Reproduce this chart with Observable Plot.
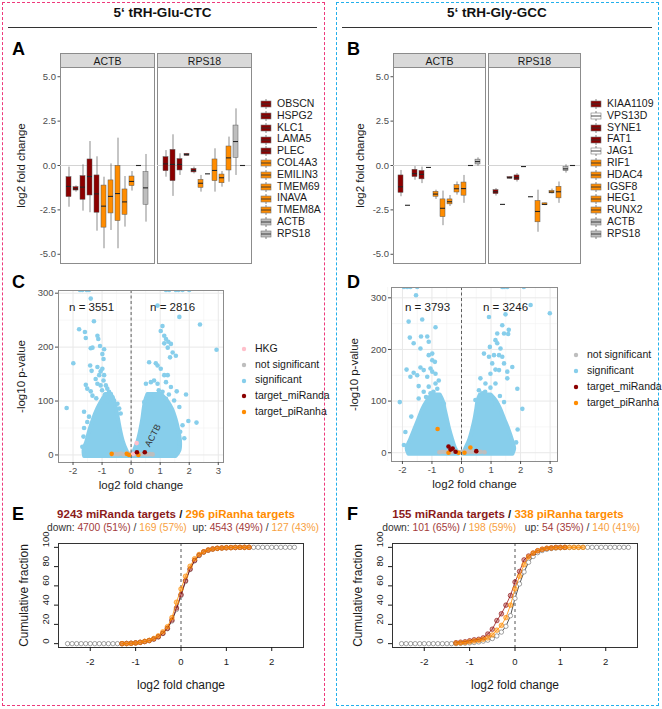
<!DOCTYPE html>
<html><head><meta charset="utf-8">
<script src="https://cdn.jsdelivr.net/npm/d3@7"></script>
<script src="https://cdn.jsdelivr.net/npm/@observablehq/plot@0.6"></script>
<style>
body{margin:0;background:#fff;font-family:"Liberation Sans",Arial,sans-serif;}
#page{position:relative;width:662px;height:709px;overflow:hidden;background:#fff}
svg g[aria-label="y-axis label"] text, svg g[aria-label="x-axis label"] text{font-size:11.5px;fill:#1a1a1a}
.cdf g[aria-label="y-axis label"] text, .cdf g[aria-label="x-axis label"] text{font-size:12px}
</style></head><body><div id="page"></div>
<script>
const FONT='"Liberation Sans", Arial, sans-serif';
const DR="#8B0000", OR="#FF8C00", GR="#BEBEBE", WH="#FFFFFF", SKY="#87CEEB", NS="#BEBEBE", PK="#FFC0CB";

// ---------- Panel A / B : box plot summaries [low, q1, median, q3, high] ----------
const facets=["ACTB","RPS18"];
const genesA=["OBSCN","HSPG2","KLC1","LAMA5","PLEC","COL4A3","EMILIN3","TMEM69","INAVA","TMEM8A","ACTB","RPS18"];
const colorsA=[DR,DR,DR,DR,DR,OR,OR,OR,OR,OR,GR,GR];
const boxA_ACTB=[[-2.35,-1.78,-1.18,-0.66,-0.09],[-1.5,-1.41,-1.31,-1.22,-1.15],[-2.57,-1.93,-1.22,-0.6,0.04],[-2.66,-1.69,-0.62,0.34,1.35],[-3.7,-2.66,-1.6,-0.56,0.49],[-4.69,-3.5,-2.29,-1.13,-0.66],[-3.66,-2.7,-1.74,-0.84,0.09],[-4.69,-3.13,-1.58,-0.02,1.54],[-3.47,-2.78,-2.05,-1.35,-0.62],[-1.44,-1.16,-0.9,-0.62,-0.34],[0,0,0,0,0],[-3.19,-2.21,-1.26,-0.38,0.62]];
const boxA_RPS18=[[-0.66,-0.32,0.09,0.47,0.84],[-1.74,-0.88,0.06,0.88,1.73],[-0.56,-0.28,0.06,0.36,0.66],[0.52,0.54,0.62,0.66,0.68],[-0.47,-0.39,-0.28,-0.19,-0.09],[-1.5,-1.26,-1.0,-0.81,-0.56],[-0.47,-0.47,-0.47,-0.47,-0.47],[-1.5,-0.88,-0.28,0.34,0.94],[-1.22,-1.0,-0.69,-0.51,-0.34],[-0.94,-0.28,0.43,1.07,1.6],[-0.56,0.43,1.35,2.25,3.19],[0,0,0,0,0]];
const genesB=["KIAA1109","VPS13D","SYNE1","FAT1","JAG1","RIF1","HDAC4","IGSF8","HEG1","RUNX2","ACTB","RPS18"];
const colorsB=[DR,WH,DR,DR,WH,OR,OR,OR,OR,OR,GR,GR];
const boxB_ACTB=[[-1.76,-1.54,-1.2,-0.56,-0.28],[-2.24,-2.24,-2.24,-2.24,-2.24],[-0.83,-0.65,-0.46,-0.24,-0.06],[-1.02,-0.78,-0.5,-0.31,-0.09],[-0.11,-0.11,-0.11,-0.11,-0.11],[-1.91,-1.76,-1.61,-1.48,-1.39],[-3.39,-2.91,-2.41,-1.91,-1.44],[-2.31,-2.19,-2.04,-1.91,-1.69],[-1.67,-1.52,-1.31,-1.11,-0.93],[-2.13,-1.7,-1.3,-0.96,-0.56],[0,0,0,0,0],[-0.04,0.06,0.22,0.33,0.43]];
const boxB_RPS18=[[-1.72,-1.61,-1.48,-1.39,-1.3],[-2.19,-2.19,-2.19,-2.19,-2.19],[-0.76,-0.74,-0.69,-0.65,-0.63],[-0.93,-0.83,-0.69,-0.56,-0.46],[-0.06,-0.06,-0.06,-0.06,-0.06],[-1.76,-1.76,-1.76,-1.76,-1.76],[-3.76,-3.2,-2.59,-2.0,-1.39],[-2.26,-2.24,-2.19,-2.13,-2.11],[-1.6,-1.57,-1.5,-1.43,-1.33],[-2.13,-1.85,-1.48,-1.2,-0.93],[-0.43,-0.31,-0.19,-0.09,0.04],[0,0,0,0,0]];
const yTicksBox=[-5,-2.5,0,2.5,5];

// ---------- Panel C / D : volcano plots ----------
const volcanoTicksX=[-2,-1,0,1,2,3];
const volcanoTicksY=[0,100,200,300];
const volcanoMinorX=[-2.5,-1.5,-0.5,0.5,1.5,2.5];
const volcanoMinorY=[50,150,250];
const sigC=[[-1.76,306],[-1.68,306],[-1.53,306],[-1.45,306],[1.2,306],[1.31,306],[1.54,306],[1.63,306],[1.77,306],[2.0,306],
[-1.39,290],[-1.28,248],[-1.79,233],[-1.59,228],[-1.56,217],[-1.16,221],[-1.13,215],[-1.07,202],[-1.39,198],[-1.33,199],[-0.93,196],[-0.99,187],[-0.95,178],[-1.99,170],[-1.41,166],[-1.36,156],[-1.16,163],[-1.05,155],[-1.1,148],[-0.99,160],[-0.93,148],[-0.95,138],[-1.22,141],[-1.16,132],[-1.56,130],[-1.51,123],[-1.05,129],[-0.87,129],[-0.82,123],[-0.76,117],[-0.7,113],[-1.39,118],[-1.33,110],[-0.64,107],[-0.59,101],[-0.47,95],[-2.22,87],[-1.62,80],[-1.45,71],[-1.51,61],[-1.62,50],[-1.64,34],[-1.68,15],[-1.56,11],[-0.41,86],[-0.36,77],[-1.2,105],[-0.9,112],[-1.0,120],[-0.8,100],
[0.91,277],[1.66,256],[2.37,242],[1.08,239],[1.02,230],[1.14,221],[1.2,215],[1.28,210],[1.14,207],[1.37,206],[2.94,195],[1.26,199],[1.43,190],[1.54,184],[1.34,181],[0.62,172],[0.85,170],[0.91,166],[1.02,160],[1.14,148],[1.26,148],[0.79,138],[0.68,135],[0.91,132],[1.2,135],[1.37,126],[0.51,132],[1.57,118],[1.89,112],[1.08,117],[0.79,110],[1.2,104],[1.48,101],[1.66,89],[0.68,104],[0.45,98],[1.97,63],[2.25,60],[1.77,55],[1.69,43],[1.83,31],[1.66,21],[0.6,112],[0.95,120],[1.3,112]];
const blobCLeftY=[-3,8,25,45,65,85,100,112];
const blobCLeftX1=[-1.6,-1.62,-1.52,-1.42,-1.3,-1.15,-1.0,-0.86];
const blobCLeftX2=[-0.05,-0.15,-0.27,-0.36,-0.43,-0.5,-0.58,-0.68];
const blobCRightY=[-3,8,25,45,65,85,100,112];
const blobCRightX1=[0.04,0.12,0.24,0.33,0.4,0.45,0.5,0.58];
const blobCRightX2=[1.55,1.68,1.7,1.64,1.55,1.42,1.25,1.05];
const nsC=[[-0.64,1],[-0.55,2],[-0.45,1.5],[-0.35,2.5],[-0.25,1],[-0.15,3],[-0.05,2],[0.05,1],[0.15,2],[0.25,3],[0.35,1.5],[0.45,2],[0.55,1],[0.65,1.5],[0.74,1]];
const hkgC=[[0.19,22],[0.07,2]];
const miC=[[0.2,5],[0.47,5]];
const piC=[[-0.67,2],[-0.15,2],[-0.07,0],[0.25,0]];
const nLabelC=["n = 3551","n = 2816"], nLabelCx=[-1.36,1.43], nLabelCy=[273,273];
const hkgText=["ACTB"], hkgTextX=[0.75], hkgTextY=[36];

const sigD=[[-1.95,321],[-1.84,321],[-1.73,321],[-1.5,321],[1.38,321],[1.44,321],[1.55,321],[2.11,321],
[-1.54,305],[-1.79,254],[-1.33,258],[-1.75,223],[-1.62,212],[-1.37,225],[-1.16,225],[-1.11,215],[-1.39,202],[-0.88,243],[-1.11,189],[-0.99,192],[-1.86,161],[-1.39,165],[-1.28,160],[-1.62,155],[-1.5,150],[-1.73,147],[-0.99,179],[-0.9,176],[-1.05,163],[-0.99,157],[-0.88,153],[-1.16,147],[-0.77,140],[-0.88,134],[-1.11,128],[-1.45,129],[-1.28,118],[-1.05,115],[-0.82,124],[-0.77,111],[-2.09,98],[-1.45,105],[-0.71,102],[-0.6,95],[-1.9,40],[-1.95,15],[-1.7,70],[-1.2,108],[-0.95,118],
[2.34,286],[2.99,270],[1.49,268],[0.93,263],[1.38,247],[1.21,231],[1.44,231],[1.6,238],[1.58,230],[1.15,218],[1.21,212],[0.96,205],[1.32,202],[1.1,189],[1.27,189],[1.38,186],[0.76,192],[0.93,186],[1.04,173],[1.44,173],[1.72,166],[1.15,161],[1.27,160],[1.55,157],[1.55,144],[0.98,153],[0.64,144],[0.81,134],[1.15,134],[0.98,126],[1.89,124],[0.59,121],[0.7,115],[0.87,111],[0.98,105],[1.44,98],[1.15,95],[2.06,85],[0.47,102],[1.9,45],[1.85,20],[1.3,110],[0.8,118]];
const blobDLeftY=[-3,8,25,45,65,85,100,112];
const blobDLeftX1=[-1.78,-1.84,-1.72,-1.58,-1.44,-1.3,-1.15,-1.0];
const blobDLeftX2=[-0.09,-0.2,-0.3,-0.4,-0.48,-0.56,-0.62,-0.72];
const blobDRightY=[-3,8,25,45,65,85,100,112];
const blobDRightX1=[0.08,0.15,0.28,0.38,0.46,0.52,0.56,0.64];
const blobDRightX2=[1.74,1.8,1.72,1.6,1.46,1.32,1.18,1.0];
const nsD=[[-0.75,1],[-0.65,2],[-0.55,1.5],[-0.45,2.5],[-0.35,1],[-0.25,3],[-0.15,2],[-0.05,1],[0.05,2],[0.15,3],[0.25,1.5],[0.35,2],[0.45,1],[0.55,1.5],[0.65,2],[0.78,1]];
const miD=[[-0.44,12],[-0.37,6],[-0.3,8],[-0.2,2],[0.5,3]];
const piD=[[-0.81,46],[-0.44,0],[-0.1,0],[0.1,0],[0.3,10]];
const nLabelD=["n = 3793","n = 3246"], nLabelDx=[-1.15,1.49], nLabelDy=[282,282];

// ---------- Panel E / F : cumulative fraction ----------
const cdfX=[-2.5,-2.4,-2.3,-2.2,-2.1,-2,-1.9,-1.8,-1.7,-1.6,-1.5,-1.4,-1.3,-1.2,-1.1,-1,-0.9,-0.8,-0.7,-0.6,-0.5,-0.4,-0.3,-0.2,-0.1,0,0.1,0.2,0.3,0.4,0.5,0.6,0.7,0.8,0.9,1,1.1,1.2,1.3,1.4,1.5,1.6,1.7,1.8,1.9,2,2.1,2.2,2.3,2.4,2.5];
const cdfTargetX=[-1.3,-1.2,-1.1,-1,-0.9,-0.8,-0.7,-0.6,-0.5,-0.4,-0.3,-0.2,-0.1,0,0.1,0.2,0.3,0.4,0.5,0.6,0.7,0.8,0.9,1,1.1,1.2,1.3,1.4,1.5];
const cdfE_bg=[0,0,0,0,0,0,0,0,0,0,0,0,0,0.2,0.4,0.8,1.4,2.2,3.3,4.8,7,10.5,15.5,23.5,35.5,50,64.5,77,86,91.5,95,97,98.2,98.9,99.3,99.6,99.7,99.8,99.9,100,100,100,100,100,100,100,100,100,100,100,100];
const cdfE_mi=[0,0.2,0.4,0.8,1.3,2.2,3.2,4.8,7.2,10.8,16,24.5,37,51,65.5,77.5,86.5,92,95.3,97.2,98.3,99,99.4,99.6,99.8,99.9,100,100,100];
const cdfE_pi=[0,0,0.3,0.7,1.4,2.4,3.4,5.4,8.1,12.2,17.6,27,43,56.8,70,80.4,88.2,92.6,95.3,97.3,98.3,99,99.3,99.7,99.7,100,100,100,100];
const cdfF_bg=[0,0,0,0,0,0,0,0,0,0,0,0,0,0.3,0.5,0.8,1.2,1.8,2.6,3.6,5.3,8,12,18,29,47,62,74.5,84.5,90.5,94.5,96.7,98,98.8,99.3,99.6,99.8,99.9,100,100,100,100,100,100,100,100,100,100,100,100,100];
const cdfF_miX=[-1.3,-1.2,-1.1,-1,-0.9,-0.8,-0.7,-0.6,-0.5,-0.4,-0.3,-0.2,-0.1,0,0.1,0.2,0.3,0.4,0.5,0.6,0.7,0.8,0.9,1,1.1];
const cdfF_mi=[1,1.5,2,3,4,4.5,6,10,15,24,31,40,50,64,75,87,91,94,96.5,98,99,99.5,100,100,100];
const cdfF_pi=[0.5,0.8,1.2,2,2.8,3.5,4.5,6,9,14,19,27,40,57,70,82,90,94,96.5,98,99,99.4,99.7,99.8,100,100,100,100,100];
const cdfTicksX=[-2,-1,0,1,2], cdfTicksY=[0,20,40,60,80,100];

// ---------- helpers ----------
const page=document.getElementById("page");
function put(el,x,y){el.style.position="absolute";el.style.left=x+"px";el.style.top=y+"px";page.appendChild(el);return el;}
function html(s,x,y,css){const d=document.createElement("div");d.style.cssText=css||"";d.innerHTML=s;return put(d,x,y);}

function boxRows(genes,colors,byFacet){
  const rows=[];
  facets.forEach(f=>byFacet[f].forEach((s,i)=>rows.push({facet:f,gene:genes[i],col:colors[i],lo:s[0],q1:s[1],med:s[2],q3:s[3],hi:s[4]})));
  return rows;
}
function boxPlot(rows,genes,o){
  return Plot.plot({
    width:o.w,height:214,marginLeft:o.ml,marginRight:4,marginTop:14,marginBottom:4,
    style:{fontFamily:FONT,fontSize:"9.5px",color:"#4d4d4d",background:"transparent",overflow:"visible"},
    fx:{domain:facets,paddingInner:0.035,paddingOuter:0,label:null},
    x:{domain:genes,padding:0.22,axis:null},
    y:{domain:[-5.52,5.52],label:null},
    marks:[
      Plot.frame({fill:"#d9d9d9",stroke:"#8c8c8c",insetTop:-14}),
      Plot.frame({fill:"white",stroke:"#8c8c8c"}),
      Plot.ruleY([0],{stroke:"#d4d4d4",strokeWidth:1}),
      Plot.ruleX(rows,{fx:"facet",x:"gene",y1:"lo",y2:"hi",stroke:"#5a5a5a",strokeWidth:0.7}),
      Plot.barY(rows,{fx:"facet",x:"gene",y1:"q1",y2:"q3",fill:"col",stroke:"#5a5a5a",strokeWidth:0.5}),
      Plot.tickY(rows,{fx:"facet",x:"gene",y:"med",stroke:"#262626",strokeWidth:1.1}),
      Plot.axisFx({anchor:"top",tickSize:0,tickPadding:3,label:null,fontSize:10.5,fill:"#1a1a1a"}),
      Plot.axisY({ticks:yTicksBox,tickFormat:d=>d.toFixed(1),tickSize:2.5,tickPadding:2,label:"log2 fold change",labelAnchor:"center",labelOffset:o.lo,labelArrow:"none"})
    ]
  });
}
function volcano(o){
  const XY={x:d=>d[0],y:d=>d[1]};
  return Plot.plot({
    width:o.w,height:o.h,marginLeft:58,marginRight:2,marginTop:5,marginBottom:30,
    style:{fontFamily:FONT,fontSize:"9.5px",color:"#4d4d4d",background:"transparent",overflow:"visible"},
    x:{domain:o.xd,label:null}, y:{domain:o.yd,label:null},
    marks:[
      Plot.gridX(volcanoMinorX,{stroke:"#f2f2f2",strokeOpacity:1,strokeWidth:0.6}),
      Plot.gridY(volcanoMinorY,{stroke:"#f2f2f2",strokeOpacity:1,strokeWidth:0.6}),
      Plot.gridX(volcanoTicksX,{stroke:"#e8e8e8",strokeOpacity:1,strokeWidth:1}),
      Plot.gridY(volcanoTicksY,{stroke:"#e8e8e8",strokeOpacity:1,strokeWidth:1}),
      Plot.areaX(o.bl.y,{y:o.bl.y,x1:o.bl.x1,x2:o.bl.x2,fill:SKY,stroke:SKY,strokeWidth:4,strokeLinejoin:"round",curve:"catmull-rom"}),
      Plot.areaX(o.br.y,{y:o.br.y,x1:o.br.x1,x2:o.br.x2,fill:SKY,stroke:SKY,strokeWidth:4,strokeLinejoin:"round",curve:"catmull-rom"}),
      Plot.dot(o.sig,{...XY,r:2.3,fill:SKY,clip:true}),
      Plot.dot(o.ns,{...XY,r:2.3,fill:NS}),
      ...(o.hkg?[Plot.dot(o.hkg,{...XY,r:2.3,fill:PK})]:[]),
      Plot.ruleX([0],{stroke:"#4d4d4d",strokeDasharray:"3,2.5",strokeWidth:0.9}),
      Plot.dot(o.pi,{...XY,r:2.3,fill:OR}),
      Plot.dot(o.mi,{...XY,r:2.3,fill:DR}),
      ...(o.txt?[Plot.text(o.txt.t,{x:o.txt.x,y:o.txt.y,text:o.txt.t,rotate:-62,fontSize:9,fill:"#333"})]:[]),
      Plot.text(o.n.t,{x:o.n.x,y:o.n.y,text:o.n.t,fontSize:11.5,fill:"#1a1a1a"}),
      Plot.frame({stroke:"#8c8c8c"}),
      Plot.axisX({ticks:volcanoTicksX,tickFormat:d=>String(d),tickSize:3,tickPadding:2,label:"log2 fold change",labelAnchor:"center",labelOffset:26,labelArrow:"none"}),
      Plot.axisY({ticks:volcanoTicksY,tickFormat:d=>String(d),tickSize:3,tickPadding:2,label:"-log10 p-value",labelAnchor:"center",labelOffset:o.lo,labelArrow:"none"})
    ]
  });
}
function cdf(o){
  const bg=cdfX.map((x,i)=>({x,y:o.bg[i]}));
  const mi=o.miX.map((x,i)=>({x,y:o.mi[i]}));
  const pi=o.piX.map((x,i)=>({x,y:o.pi[i]}));
  const svg=Plot.plot({
    width:o.w,height:154,marginLeft:58,marginRight:5,marginTop:5,marginBottom:45,
    style:{fontFamily:FONT,fontSize:"9.5px",color:"#1a1a1a",background:"transparent",overflow:"visible"},
    x:{domain:[-2.7,2.7],label:null}, y:{domain:[-4,104],label:null},
    marks:[
      Plot.ruleX([0],{stroke:"#555",strokeDasharray:"3,3",strokeWidth:1}),
      Plot.line(bg,{x:"x",y:"y",stroke:"#2b2b2b",strokeWidth:0.8}),
      Plot.dot(bg,{x:"x",y:"y",r:2.2,stroke:"#7a7a7a",fill:"white",strokeWidth:0.7}),
      Plot.line(mi,{x:"x",y:"y",stroke:DR,strokeWidth:0.9,strokeOpacity:0.8}),
      Plot.dot(mi,{x:"x",y:"y",r:2.3,fill:DR,fillOpacity:0.35,stroke:DR,strokeOpacity:0.7,strokeWidth:0.8}),
      Plot.line(pi,{x:"x",y:"y",stroke:OR,strokeWidth:0.9,strokeOpacity:0.9}),
      Plot.dot(pi,{x:"x",y:"y",r:2.3,fill:OR,fillOpacity:0.45,stroke:OR,strokeOpacity:0.8,strokeWidth:0.8}),
      Plot.frame({stroke:"#333"}),
      Plot.axisX({ticks:cdfTicksX,tickFormat:d=>String(d),tickSize:4,tickPadding:7,label:"log2 fold change",labelAnchor:"center",labelOffset:41,labelArrow:"none"}),
      Plot.axisY({ticks:cdfTicksY,tickFormat:()=>"",tickSize:4,tickPadding:6,label:"Cumulative fraction",labelAnchor:"center",labelOffset:39,labelArrow:"none"}),
      Plot.text(cdfTicksY,{y:d=>d,text:d=>String(d),frameAnchor:"left",dx:-13,rotate:-90,fontSize:9.5,fill:"#1a1a1a"})
    ]
  });
  svg.classList.add("cdf");
  return svg;
}
function boxLegend(x,y0,step,names,cols){
  names.forEach((n,i)=>{
    const key=`<svg width="12" height="10" style="vertical-align:middle;margin-right:5px"><line x1="6" x2="6" y1="0" y2="10" stroke="#666" stroke-width="0.8"/><rect x="1" y="2" width="10" height="6" fill="${cols[i]}" stroke="#777" stroke-width="0.6"/><line x1="1" x2="11" y1="5" y2="5" stroke="#333" stroke-width="0.9"/></svg>`;
    html(key+`<span>${n}</span>`,x,y0+i*step-6,`font-size:10.5px;line-height:12px;white-space:nowrap;color:#1a1a1a`);
  });
}
function dotLegend(x,y0,step,names,cols){
  names.forEach((n,i)=>{
    const key=`<svg width="8" height="8" style="vertical-align:middle;margin-right:7px"><circle cx="4" cy="4" r="2.2" fill="${cols[i]}"/></svg>`;
    html(key+`<span>${n}</span>`,x,y0+i*step-7,`font-size:10.5px;line-height:14px;white-space:nowrap;color:#1a1a1a`);
  });
}

// ---------- layout ----------
html("",2,2,"width:321px;height:702px;border:1.5px dashed #ee3a7c");
html("",336,2,"width:321px;height:702px;border:1.5px dashed #22b0ec");
html("5‘ tRH-Glu-CTC",8,5,"width:309px;text-align:center;font-weight:bold;font-size:13.5px;color:#111");
html("5‘ tRH-Gly-GCC",342,5,"width:310px;text-align:center;font-weight:bold;font-size:13.5px;color:#111");
html("",8,27,"width:309px;border-top:1.5px solid #333");
html("",342,27,"width:310px;border-top:1.5px solid #333");
const L="font-weight:bold;font-size:18px;line-height:18px;color:#000";
html("A",12,40,L); html("B",347,40,L);
html("C",12,273,L); html("D",347,273,L);
html("E",12,505,L); html("F",347,505,L);

put(boxPlot(boxRows(genesA,colorsA,{ACTB:boxA_ACTB,RPS18:boxA_RPS18}),genesA,{w:255,ml:59,lo:44}),0,53);
put(boxPlot(boxRows(genesB,colorsB,{ACTB:boxB_ACTB,RPS18:boxB_RPS18}),genesB,{w:253,ml:61,lo:38}),331,53);
boxLegend(260,103,11.8,genesA,colorsA);
boxLegend(590,103,11.8,genesB,colorsB);

put(volcano({w:225,h:207,xd:[-2.5,3.18],yd:[-14,305],sig:sigC,ns:nsC,hkg:hkgC,mi:miC,pi:piC,
  bl:{y:blobCLeftY,x1:blobCLeftX1,x2:blobCLeftX2},br:{y:blobCRightY,x1:blobCRightX1,x2:blobCRightX2},
  n:{t:nLabelC,x:nLabelCx,y:nLabelCy},txt:{t:hkgText,x:hkgTextX,y:hkgTextY},lo:42}),0,285);
put(volcano({w:226,h:209,xd:[-2.37,3.25],yd:[-17,320],sig:sigD,ns:nsD,mi:miD,pi:piD,
  bl:{y:blobDLeftY,x1:blobDLeftX1,x2:blobDLeftX2},br:{y:blobDRightY,x1:blobDRightX1,x2:blobDRightX2},
  n:{t:nLabelD,x:nLabelDx,y:nLabelDy},lo:42}),333,282);
dotLegend(240,348,15.7,["HKG","not significant","significant","target_miRanda","target_piRanha"],[PK,NS,SKY,DR,OR]);
dotLegend(572,354,16,["not significant","significant","target_miRanda","target_piRanha"],[NS,SKY,DR,OR]);

const T="text-align:center;font-weight:bold;font-size:11.5px;white-space:nowrap;color:#1a1a1a";
const S="text-align:center;font-size:10.3px;white-space:nowrap;color:#333";
const r=s=>`<span style="color:#8B1A1A">${s}</span>`, o=s=>`<span style="color:#FF8C00">${s}</span>`;
const rs=s=>`<span style="color:#a33a3a">${s}</span>`, os=s=>`<span style="color:#f7a040">${s}</span>`;
html(`${r("9243 miRanda targets")} / ${o("296 piRanha targets")}`,26,508,"width:300px;"+T);
html(`down: ${rs("4700 (51%)")} / ${os("169 (57%)")}&nbsp; up: ${rs("4543 (49%)")} / ${os("127 (43%)")}`,33,522,"width:300px;"+S);
html(`${r("155 miRanda targets")} / ${o("338 piRanha targets")}`,358,508,"width:300px;"+T);
html(`down: ${rs("101 (65%)")} / ${os("198 (59%)")}&nbsp;&nbsp; up: ${rs("54 (35%)")} / ${os("140 (41%)")}`,361,522,"width:300px;"+S);

put(cdf({w:308,bg:cdfE_bg,miX:cdfTargetX,mi:cdfE_mi,piX:cdfTargetX,pi:cdfE_pi}),0,538);
put(cdf({w:308,bg:cdfF_bg,miX:cdfF_miX,mi:cdfF_mi,piX:cdfTargetX,pi:cdfF_pi}),334,538);
</script></body></html>
